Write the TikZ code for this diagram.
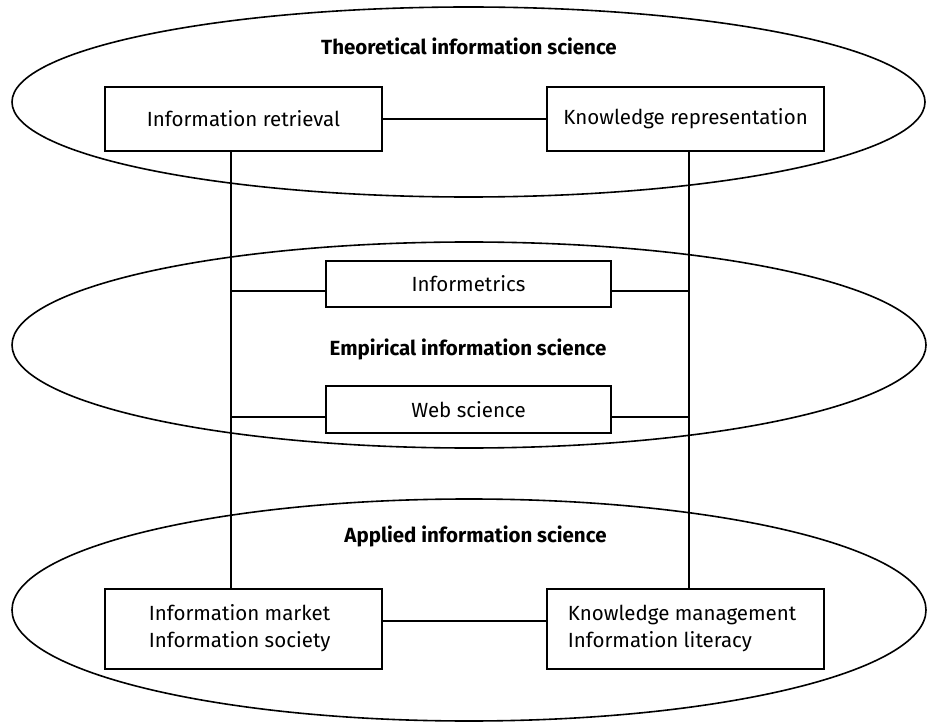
\documentclass[tikz,border=0pt]{standalone}
\usepackage{fontspec}
\setmainfont{Fira Sans}
\begin{document}
\begin{tikzpicture}[x=1pt,y=-1pt,line width=1.6pt,
  box/.style={draw,rectangle,inner sep=0pt,minimum width=277pt,minimum height=64pt,
    font=\fontsize{20.5}{27}\selectfont},
  txt/.style={inner sep=0pt,font=\fontsize{20.5}{27}\selectfont},
  lab/.style={inner sep=0pt,anchor=base,font=\bfseries\fontsize{20.5}{25}\selectfont}]
\useasboundingbox (0,0) rectangle (927,722);
% ellipses
\draw (468.5,102) ellipse [x radius=456.5pt, y radius=95pt];
\draw (469,345) ellipse [x radius=457pt, y radius=103pt];
\draw (469,610) ellipse [x radius=457pt, y radius=111pt];
% labels
\node[lab] (lt) at (469,55) {Theoretical information science};
\node[lab] (le) at (468,355) {Empirical information science};
\node[lab] (la) at (475.5,542) {Applied information science};
% boxes
\node[box] (IR) at (243.5,119) {Information retrieval};
\node[box] (KR) at (685.5,119) {Knowledge representation};
\node[box,minimum width=285pt,minimum height=46pt] (INF) at (468.5,284) {Informetrics};
\node[box,minimum width=285pt,minimum height=47pt] (WEB) at (468.5,409.5) {Web science};
\node[box,minimum height=80pt] (IM) at (243.5,629) {};
\node[box,minimum height=80pt] (KM) at (685.5,629) {};
\node[txt,anchor=west,align=left] (IMt) at (148,628.5) {Information market\\Information society};
\node[txt,anchor=west,align=left] (KMt) at (567,628.5) {Knowledge management\\Information literacy};
% helper coordinates
\coordinate (vl) at (231,0);
\coordinate (vr) at (689,0);
\coordinate (yinf) at (0,291);
\coordinate (yweb) at (0,417);
\coordinate (ybot) at (0,621);
% connectors
\draw (IR) -- (KR);
\draw (IR.south -| vl) -- (IM.north -| vl);
\draw (KR.south -| vr) -- (KM.north -| vr);
\draw (vl |- yinf) -- (INF.west |- yinf);
\draw (INF.east |- yinf) -- (vr |- yinf);
\draw (vl |- yweb) -- (WEB.west |- yweb);
\draw (WEB.east |- yweb) -- (vr |- yweb);
\draw (IM.east |- ybot) -- (KM.west |- ybot);
\end{tikzpicture}
\end{document}
